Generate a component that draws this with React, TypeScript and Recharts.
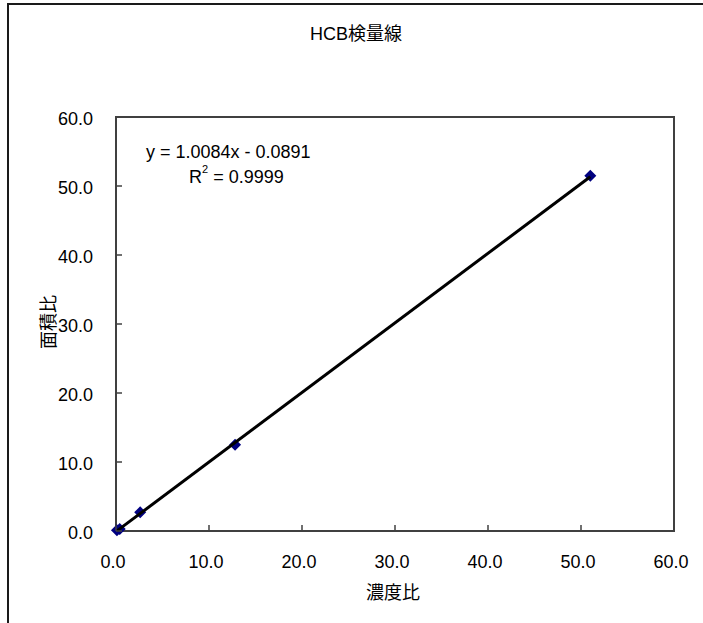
import { ScatterChart, Scatter, XAxis, YAxis, ReferenceArea } from "recharts";

const concRatio = [0.1, 0.4, 2.6, 12.8, 51.0];
const areaRatio = [0.1, 0.3, 2.7, 12.5, 51.5];
const axisTicks = [0, 10, 20, 30, 40, 50, 60];
const slope = 1.0084;
const intercept = -0.0891;

const points = concRatio.map((x, i) => ({ x, y: areaRatio[i] }));
const xMin = Math.min(...concRatio);
const xMax = Math.max(...concRatio);
const trend = [xMin, xMax].map((x) => ({ x, y: slope * x + intercept }));

const FONT = "'Liberation Sans', Arial, 'Noto Sans CJK JP', sans-serif";
const AXIS = "#404040";

function XTick(props: any) {
  const { x, y, payload } = props;
  return (
    <g>
      <line x1={x} y1={y} x2={x} y2={y - 6} stroke={AXIS} strokeWidth={1.5} />
      <text x={x - 3} y={y + 37} textAnchor="middle" fontSize={18} fontFamily={FONT} fill="#000">
        {payload.value.toFixed(1)}
      </text>
    </g>
  );
}

function YTick(props: any) {
  const { x, y, payload } = props;
  return (
    <g>
      <line x1={x} y1={y} x2={x + 6} y2={y} stroke={AXIS} strokeWidth={1.5} />
      <text x={x - 23} y={y + 8} textAnchor="end" fontSize={18} fontFamily={FONT} fill="#000">
        {payload.value.toFixed(1)}
      </text>
    </g>
  );
}

function Diamond(props: any) {
  const { cx, cy } = props;
  const r = 6;
  return <polygon points={`${cx},${cy - r} ${cx + r},${cy} ${cx},${cy + r} ${cx - r},${cy}`} fill="#000080" />;
}

export default function App() {
  return (
    <div style={{ position: "fixed", left: 0, top: 0, width: 703, height: 623, overflow: "hidden", background: "#fff" }}>
      <div style={{ position: "absolute", left: 7, top: 3, width: 760, height: 700, border: "2px solid #1a1a1a", boxSizing: "border-box" }} />
      <ScatterChart width={703} height={623} margin={{ top: 117, right: 29, bottom: 62, left: 0 }} style={{ position: "absolute", left: 0, top: 0 }}>
        <XAxis
          type="number"
          dataKey="x"
          domain={[0, 60]}
          ticks={axisTicks}
          height={30}
          tickSize={0}
          tickMargin={0}
          tick={<XTick />}
          axisLine={{ stroke: AXIS, strokeWidth: 2 }}
          tickLine={false}
        />
        <YAxis
          type="number"
          dataKey="y"
          domain={[0, 60]}
          ticks={axisTicks}
          width={116}
          tickSize={0}
          tickMargin={0}
          tick={<YTick />}
          axisLine={{ stroke: AXIS, strokeWidth: 2 }}
          tickLine={false}
        />
        <ReferenceArea x1={0} x2={60} y1={0} y2={60} fill="none" stroke={AXIS} strokeWidth={2} ifOverflow="visible" />
        <Scatter data={points} shape={<Diamond />} isAnimationActive={false} />
        <Scatter
          data={trend}
          line={{ stroke: "#000", strokeWidth: 3 }}
          shape={() => <g />}
          isAnimationActive={false}
        />
      </ScatterChart>
      <svg width={703} height={623} style={{ position: "absolute", left: 0, top: 0, pointerEvents: "none" }}>
        <text x={310} y={40} fontSize={18} fontFamily={FONT} fill="#000">HCB検量線</text>
        <text x={146} y={158} fontSize={18} fontFamily={FONT} fill="#000">
          y = 1.0084x - 0.0891
        </text>
        <text x={189} y={183} fontSize={18} fontFamily={FONT} fill="#000">
          R<tspan fontSize={11} dy={-10}>2</tspan>
          <tspan dy={10}> = 0.9999</tspan>
        </text>
        <text x={393} y={599} textAnchor="middle" fontSize={18} fontFamily={FONT} fill="#000">濃度比</text>
        <text transform="translate(55,322) rotate(-90)" textAnchor="middle" fontSize={18} fontFamily={FONT} fill="#000">面積比</text>
      </svg>
    </div>
  );
}
